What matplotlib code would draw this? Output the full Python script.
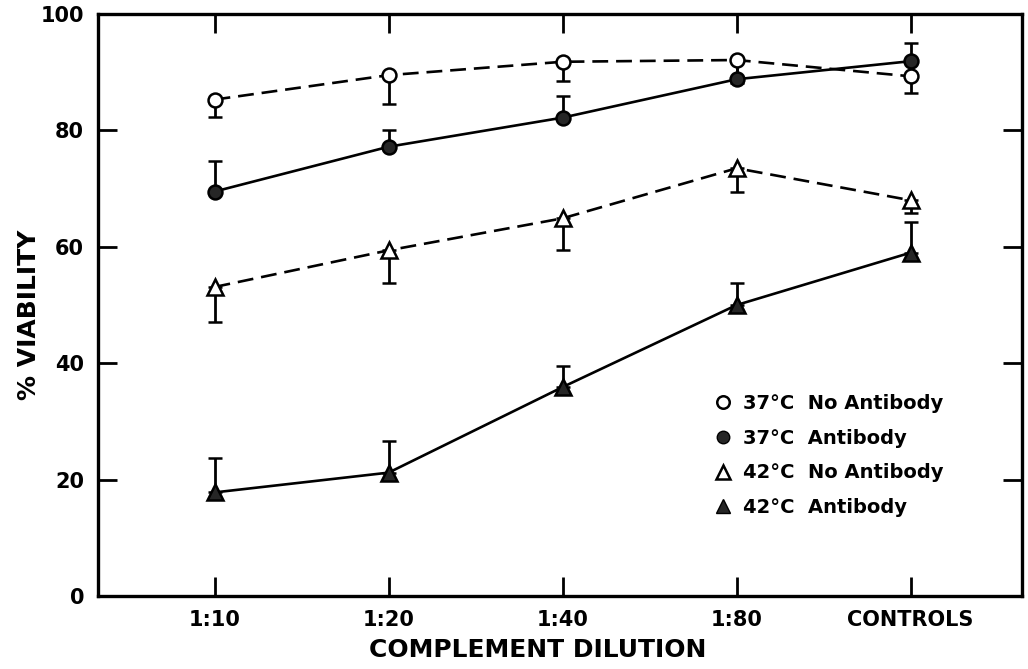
import numpy as np
import matplotlib
matplotlib.use('Agg')
import matplotlib.pyplot as plt
from matplotlib.lines import Line2D

plt.rcParams['font.family'] = ['DejaVu Sans']

dilutions = ['1:10', '1:20', '1:40', '1:80', 'CONTROLS']

no_ab_37 = [85.3, 89.5, 91.8, 92.1, 89.3]
no_ab_37_low = [82.3, 84.5, 88.5, 88.1, 86.5]

ab_37 = [69.5, 77.2, 82.2, 88.8, 91.9]
ab_37_high = [74.7, 80.0, 85.9, 92.4, 95.1]

no_ab_42 = [53.1, 59.4, 64.9, 73.5, 68.0]
no_ab_42_low = [47.0, 53.7, 59.4, 69.5, 65.8]

ab_42 = [17.8, 21.2, 35.9, 50.0, 59.0]
ab_42_high = [23.7, 26.6, 39.5, 53.7, 64.3]

y_ticks = [0, 20, 40, 60, 80, 100]

x = np.arange(1, len(dilutions) + 1)
dark = '#262626'

fig = plt.figure(figsize=(10.28, 6.69), dpi=100)
ax = fig.add_axes([0.0953, 0.1091, 0.8989, 0.8699])

def serie(vals, lo, hi, marker, face, ls, ms):
    vals = np.array(vals)
    err = [vals - np.array(lo), np.array(hi) - vals]
    ax.errorbar(x, vals, yerr=err, color='black', ls=ls, lw=1.9,
                dashes=(6, 3) if ls == '--' else (None, None),
                marker=marker, markersize=ms, markerfacecolor=face,
                markeredgecolor='black', markeredgewidth=1.8,
                elinewidth=2, capsize=5, capthick=2.2)

serie(no_ab_37, no_ab_37_low, no_ab_37, 'o', 'white', '--', 10)
serie(ab_37, ab_37, ab_37_high, 'o', dark, '-', 10)
serie(no_ab_42, no_ab_42_low, no_ab_42, '^', 'white', '--', 12)
serie(ab_42, ab_42, ab_42_high, '^', dark, '-', 12)

ax.set_xlim(0.33, 5.64)
ax.set_ylim(0, 100)
ax.set_xticks(x)
ax.set_xticklabels(dilutions)
ax.set_yticks(y_ticks)

for s in ax.spines.values():
    s.set_linewidth(2.4)

ax.tick_params(direction='in', length=14, width=2, top=True, right=True,
               labelsize=15, pad=10)
for lab in ax.get_xticklabels() + ax.get_yticklabels():
    lab.set_fontweight('bold')

ax.set_xlabel('COMPLEMENT DILUTION', fontsize=18, fontweight='bold')
ax.xaxis.set_label_coords(0.476, -0.072)
ax.set_ylabel('% VIABILITY', fontsize=18, fontweight='bold')
ax.yaxis.set_label_coords(-0.062, 0.483)

handles = [
    Line2D([], [], ls='none', marker='o', markersize=9, markerfacecolor='white',
           markeredgecolor='black', markeredgewidth=1.8),
    Line2D([], [], ls='none', marker='o', markersize=9, markerfacecolor=dark,
           markeredgecolor='black'),
    Line2D([], [], ls='none', marker='^', markersize=10, markerfacecolor='white',
           markeredgecolor='black', markeredgewidth=1.8),
    Line2D([], [], ls='none', marker='^', markersize=10, markerfacecolor=dark,
           markeredgecolor='black'),
]
labels = ['37°C  No Antibody', '37°C  Antibody', '42°C  No Antibody', '42°C  Antibody']
leg = ax.legend(handles, labels, loc='upper left', bbox_to_anchor=(0.66, 0.36),
                frameon=False, fontsize=14, handlelength=0.8, handletextpad=0.6,
                labelspacing=0.8, borderaxespad=0)
for t in leg.get_texts():
    t.set_fontweight('bold')

fig.savefig('out.png', dpi=100)
